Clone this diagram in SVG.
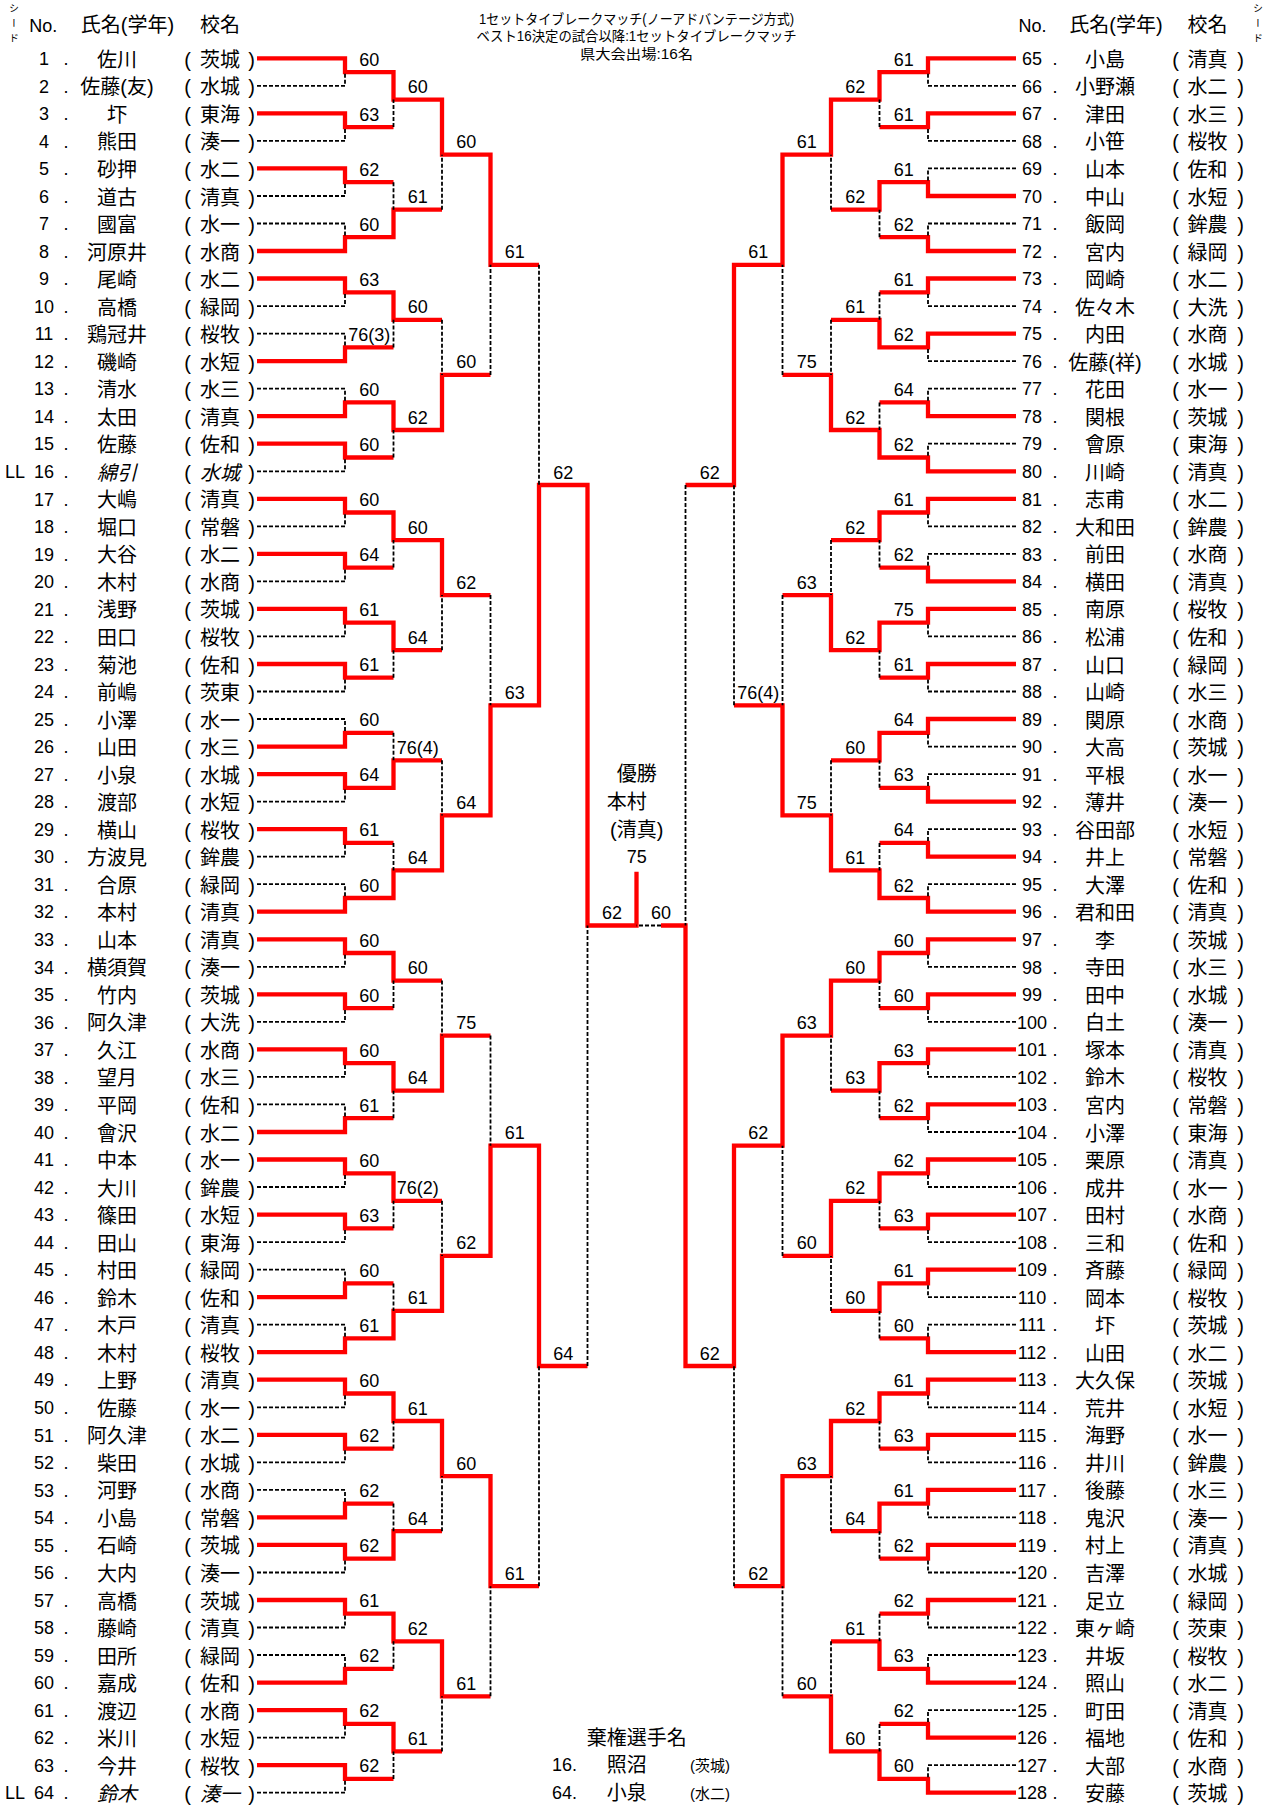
<svg xmlns="http://www.w3.org/2000/svg" width="1277" height="1805" viewBox="0 0 1277 1805">
<style>
text{font-family:"Liberation Sans","Noto Sans CJK JP",sans-serif;fill:#000}
.no{font-family:"Liberation Sans Narrow","Liberation Sans","Noto Sans CJK JP",sans-serif;font-size:18px;text-anchor:middle}
.nm{font-size:20px;text-anchor:middle}
.s{font-size:18px;text-anchor:middle}
.ti{font-size:14px;text-anchor:middle}
.sm{font-size:15px;text-anchor:middle}
.it{font-style:italic}
.vt{font-size:10px;writing-mode:vertical-rl;letter-spacing:5px}
.r{fill:none;stroke:#f00;stroke-width:4.3;stroke-linejoin:miter}
.d{fill:none;stroke:#000;stroke-width:1.8;stroke-dasharray:4 2}
</style>
<defs>
<g id="L"><text class="no" x="66" y="-1.8">.</text><text class="nm" x="187.5">(</text><text class="nm" x="251.5">)</text></g>
<g id="R"><text class="no" x="1055" y="-1.8">.</text><text class="nm" x="1175.5">(</text><text class="nm" x="1240.5">)</text></g>
</defs>
<rect width="1277" height="1805" fill="#fff"/>
<g id="header">
<text class="vt" x="13" y="3">シード</text>
<text class="vt" x="1257" y="3">シード</text>
<text class="no" x="43.3" y="31.5">No.</text>
<text class="nm" x="127.5" y="31.5">氏名(学年)</text>
<text class="nm" x="220" y="31.5">校名</text>
<text class="no" x="1032.5" y="31.5">No.</text>
<text class="nm" x="1116" y="31.5">氏名(学年)</text>
<text class="nm" x="1207.5" y="31.5">校名</text>
<text class="ti" x="636.5" y="24" textLength="315" lengthAdjust="spacingAndGlyphs">1セットタイブレークマッチ(ノーアドバンテージ方式)</text>
<text class="ti" x="636.5" y="41" textLength="320" lengthAdjust="spacingAndGlyphs">ベスト16決定の試合以降:1セットタイブレークマッチ</text>
<text class="ti" x="636.5" y="58.5" textLength="113" lengthAdjust="spacingAndGlyphs">県大会出場:16名</text>
</g>
<g id="connectors">
<g class="r">
<path d="M257 58.3H345V72.1H393.5V99.6H442V154.7H490.5V264.8H539"/>
<path d="M257 113.4H345V127.1H393.5"/>
<path d="M257 168.4H345V182.2H393.5"/>
<path d="M257 251H345V237.2H393.5V209.7H442"/>
<path d="M257 278.5H345V292.3H393.5V319.8H442"/>
<path d="M257 361.1H345V347.4H393.5"/>
<path d="M257 416.2H345V402.4H393.5V430H442V374.9H490.5"/>
<path d="M257 443.7H345V457.5H393.5"/>
<path d="M257 498.8H345V512.5H393.5V540.1H442V595.1H490.5"/>
<path d="M257 553.8H345V567.6H393.5"/>
<path d="M257 608.9H345V622.7H393.5V650.2H442"/>
<path d="M257 664H345V677.7H393.5"/>
<path d="M257 746.6H345V732.8H393.5"/>
<path d="M257 774.1H345V787.8H393.5V760.3H442"/>
<path d="M257 829.1H345V842.9H393.5"/>
<path d="M257 911.7H345V898H393.5V870.4H442V815.4H490.5V705.3H539V485H587.5V925.5H636.5V871.7"/>
<path d="M257 939.3H345V953H393.5V980.6H442"/>
<path d="M257 994.3H345V1008.1H393.5"/>
<path d="M257 1049.4H345V1063.1H393.5V1090.7H442V1035.6H490.5"/>
<path d="M257 1132H345V1118.2H393.5"/>
<path d="M257 1159.5H345V1173.3H393.5V1200.8H442"/>
<path d="M257 1214.6H345V1228.3H393.5"/>
<path d="M257 1297.2H345V1283.4H393.5"/>
<path d="M257 1352.2H345V1338.4H393.5V1310.9H442V1255.9H490.5V1145.7H539V1366H587.5"/>
<path d="M257 1379.7H345V1393.5H393.5V1421H442V1476.1H490.5V1586.2H539"/>
<path d="M257 1434.8H345V1448.6H393.5"/>
<path d="M257 1517.4H345V1503.6H393.5"/>
<path d="M257 1544.9H345V1558.7H393.5V1531.2H442"/>
<path d="M257 1600H345V1613.7H393.5V1641.3H442V1696.3H490.5"/>
<path d="M257 1682.6H345V1668.8H393.5"/>
<path d="M257 1710.1H345V1723.9H393.5V1751.4H442"/>
<path d="M257 1765.2H345V1778.9H393.5"/>
<path d="M1016 58.3H928V72.1H879.5V99.6H831V154.7H782.5V264.8H734V485H685.5"/>
<path d="M1016 113.4H928V127.1H879.5"/>
<path d="M1016 196H928V182.2H879.5V209.7H831"/>
<path d="M1016 251H928V237.2H879.5"/>
<path d="M1016 278.5H928V292.3H879.5"/>
<path d="M1016 333.6H928V347.4H879.5V319.8H831"/>
<path d="M1016 416.2H928V402.4H879.5"/>
<path d="M1016 471.3H928V457.5H879.5V430H831V374.9H782.5"/>
<path d="M1016 498.8H928V512.5H879.5V540.1H831"/>
<path d="M1016 581.4H928V567.6H879.5"/>
<path d="M1016 608.9H928V622.7H879.5V650.2H831V595.1H782.5"/>
<path d="M1016 664H928V677.7H879.5"/>
<path d="M1016 719H928V732.8H879.5V760.3H831"/>
<path d="M1016 801.6H928V787.8H879.5"/>
<path d="M1016 856.7H928V842.9H879.5"/>
<path d="M1016 911.7H928V898H879.5V870.4H831V815.4H782.5V705.3H734"/>
<path d="M1016 939.3H928V953H879.5V980.6H831V1035.6H782.5V1145.7H734V1366H685.5V925.5H661"/>
<path d="M1016 994.3H928V1008.1H879.5"/>
<path d="M1016 1049.4H928V1063.1H879.5V1090.7H831"/>
<path d="M1016 1104.4H928V1118.2H879.5"/>
<path d="M1016 1159.5H928V1173.3H879.5V1200.8H831V1255.9H782.5"/>
<path d="M1016 1214.6H928V1228.3H879.5"/>
<path d="M1016 1269.6H928V1283.4H879.5V1310.9H831"/>
<path d="M1016 1352.2H928V1338.4H879.5"/>
<path d="M1016 1379.7H928V1393.5H879.5V1421H831V1476.1H782.5V1586.2H734"/>
<path d="M1016 1434.8H928V1448.6H879.5"/>
<path d="M1016 1489.9H928V1503.6H879.5V1531.2H831"/>
<path d="M1016 1544.9H928V1558.7H879.5"/>
<path d="M1016 1600H928V1613.7H879.5"/>
<path d="M1016 1682.6H928V1668.8H879.5V1641.3H831"/>
<path d="M1016 1737.6H928V1723.9H879.5"/>
<path d="M1016 1792.7H928V1778.9H879.5V1751.4H831V1696.3H782.5"/>
</g>
<path class="d" d="M539 264.8V485M393.5 127.1V99.6M393.5 182.2V209.7M442 209.7V154.7M442 319.8V374.9M393.5 347.4V319.8M490.5 374.9V264.8M393.5 457.5V430M490.5 595.1V705.3M393.5 567.6V540.1M442 650.2V595.1M393.5 677.7V650.2M393.5 732.8V760.3M442 760.3V815.4M393.5 842.9V870.4M442 980.6V1035.6M393.5 1008.1V980.6M490.5 1035.6V1145.7M393.5 1118.2V1090.7M442 1200.8V1255.9M393.5 1228.3V1200.8M393.5 1283.4V1310.9M587.5 1366V925.5M539 1586.2V1366M393.5 1448.6V1421M393.5 1503.6V1531.2M442 1531.2V1476.1M490.5 1696.3V1586.2M393.5 1668.8V1641.3M442 1751.4V1696.3M393.5 1778.9V1751.4"/>
<path class="d" d="M257 85.8H345V72.1M257 140.9H345V127.1M257 196H345V182.2M257 223.5H345V237.2M257 306.1H345V292.3M257 333.6H345V347.4M257 388.7H345V402.4M257 471.3H345V457.5M257 526.3H345V512.5M257 581.4H345V567.6M257 636.4H345V622.7M257 691.5H345V677.7M257 719H345V732.8M257 801.6H345V787.8M257 856.7H345V842.9M257 884.2H345V898M257 966.8H345V953M257 1021.9H345V1008.1M257 1076.9H345V1063.1M257 1104.4H345V1118.2M257 1187H345V1173.3M257 1242.1H345V1228.3M257 1269.6H345V1283.4M257 1324.7H345V1338.4M257 1407.3H345V1393.5M257 1462.3H345V1448.6M257 1489.9H345V1503.6M257 1572.5H345V1558.7M257 1627.5H345V1613.7M257 1655H345V1668.8M257 1737.6H345V1723.9M257 1792.7H345V1778.9"/>
<path class="d" d="M685.5 485V925.5M879.5 127.1V99.6M831 209.7V154.7M879.5 237.2V209.7M879.5 292.3V319.8M831 319.8V374.9M879.5 402.4V430M782.5 374.9V264.8M831 540.1V595.1M879.5 567.6V540.1M782.5 595.1V705.3M879.5 677.7V650.2M831 760.3V815.4M879.5 787.8V760.3M879.5 842.9V870.4M734 705.3V485M661 925.5H636.5M879.5 1008.1V980.6M831 1090.7V1035.6M879.5 1118.2V1090.7M782.5 1255.9V1145.7M879.5 1228.3V1200.8M831 1310.9V1255.9M879.5 1338.4V1310.9M734 1586.2V1366M879.5 1448.6V1421M831 1531.2V1476.1M879.5 1558.7V1531.2M782.5 1696.3V1586.2M879.5 1613.7V1641.3M831 1641.3V1696.3M879.5 1723.9V1751.4"/>
<path class="d" d="M1016 85.8H928V72.1M1016 140.9H928V127.1M1016 168.4H928V182.2M1016 223.5H928V237.2M1016 306.1H928V292.3M1016 361.1H928V347.4M1016 388.7H928V402.4M1016 443.7H928V457.5M1016 526.3H928V512.5M1016 553.8H928V567.6M1016 636.4H928V622.7M1016 691.5H928V677.7M1016 746.6H928V732.8M1016 774.1H928V787.8M1016 829.1H928V842.9M1016 884.2H928V898M1016 966.8H928V953M1016 1021.9H928V1008.1M1016 1076.9H928V1063.1M1016 1132H928V1118.2M1016 1187H928V1173.3M1016 1242.1H928V1228.3M1016 1297.2H928V1283.4M1016 1324.7H928V1338.4M1016 1407.3H928V1393.5M1016 1462.3H928V1448.6M1016 1517.4H928V1503.6M1016 1572.5H928V1558.7M1016 1627.5H928V1613.7M1016 1655H928V1668.8M1016 1710.1H928V1723.9M1016 1765.2H928V1778.9"/>
</g>
<g id="scores">
<text class="s"><tspan x="369.3" y="65.6">60</tspan><tspan x="369.3" y="120.6">63</tspan><tspan x="369.3" y="175.7">62</tspan><tspan x="369.3" y="230.7">60</tspan><tspan x="369.3" y="285.8">63</tspan><tspan x="369.3" y="340.9">76(3)</tspan><tspan x="369.3" y="395.9">60</tspan><tspan x="369.3" y="451">60</tspan><tspan x="369.3" y="506">60</tspan><tspan x="369.3" y="561.1">64</tspan><tspan x="369.3" y="616.2">61</tspan><tspan x="369.3" y="671.2">61</tspan><tspan x="369.3" y="726.3">60</tspan><tspan x="369.3" y="781.3">64</tspan><tspan x="369.3" y="836.4">61</tspan><tspan x="369.3" y="891.5">60</tspan><tspan x="369.3" y="946.5">60</tspan><tspan x="369.3" y="1001.6">60</tspan><tspan x="369.3" y="1056.6">60</tspan><tspan x="369.3" y="1111.7">61</tspan><tspan x="369.3" y="1166.8">60</tspan><tspan x="369.3" y="1221.8">63</tspan><tspan x="369.3" y="1276.9">60</tspan><tspan x="369.3" y="1331.9">61</tspan><tspan x="369.3" y="1387">60</tspan><tspan x="369.3" y="1442.1">62</tspan><tspan x="369.3" y="1497.1">62</tspan><tspan x="369.3" y="1552.2">62</tspan><tspan x="369.3" y="1607.2">61</tspan><tspan x="369.3" y="1662.3">62</tspan><tspan x="369.3" y="1717.4">62</tspan><tspan x="369.3" y="1772.4">62</tspan></text>
<text class="s"><tspan x="417.8" y="93.1">60</tspan><tspan x="417.8" y="203.2">61</tspan><tspan x="417.8" y="313.3">60</tspan><tspan x="417.8" y="423.5">62</tspan><tspan x="417.8" y="533.6">60</tspan><tspan x="417.8" y="643.7">64</tspan><tspan x="417.8" y="753.8">76(4)</tspan><tspan x="417.8" y="863.9">64</tspan><tspan x="417.8" y="974.1">60</tspan><tspan x="417.8" y="1084.2">64</tspan><tspan x="417.8" y="1194.3">76(2)</tspan><tspan x="417.8" y="1304.4">61</tspan><tspan x="417.8" y="1414.5">61</tspan><tspan x="417.8" y="1524.7">64</tspan><tspan x="417.8" y="1634.8">62</tspan><tspan x="417.8" y="1744.9">61</tspan></text>
<text class="s"><tspan x="466.3" y="148.2">60</tspan><tspan x="466.3" y="368.4">60</tspan><tspan x="466.3" y="588.6">62</tspan><tspan x="466.3" y="808.9">64</tspan><tspan x="466.3" y="1029.1">75</tspan><tspan x="466.3" y="1249.4">62</tspan><tspan x="466.3" y="1469.6">60</tspan><tspan x="466.3" y="1689.8">61</tspan></text>
<text class="s"><tspan x="514.8" y="258.3">61</tspan><tspan x="514.8" y="698.8">63</tspan><tspan x="514.8" y="1139.2">61</tspan><tspan x="514.8" y="1579.7">61</tspan></text>
<text class="s"><tspan x="563.3" y="478.5">62</tspan><tspan x="563.3" y="1359.5">64</tspan></text>
<text class="s"><tspan x="612" y="919">62</tspan><tspan x="661" y="919">60</tspan></text>
<text class="s"><tspan x="903.8" y="65.6">61</tspan><tspan x="903.8" y="120.6">61</tspan><tspan x="903.8" y="175.7">61</tspan><tspan x="903.8" y="230.7">62</tspan><tspan x="903.8" y="285.8">61</tspan><tspan x="903.8" y="340.9">62</tspan><tspan x="903.8" y="395.9">64</tspan><tspan x="903.8" y="451">62</tspan><tspan x="903.8" y="506">61</tspan><tspan x="903.8" y="561.1">62</tspan><tspan x="903.8" y="616.2">75</tspan><tspan x="903.8" y="671.2">61</tspan><tspan x="903.8" y="726.3">64</tspan><tspan x="903.8" y="781.3">63</tspan><tspan x="903.8" y="836.4">64</tspan><tspan x="903.8" y="891.5">62</tspan><tspan x="903.8" y="946.5">60</tspan><tspan x="903.8" y="1001.6">60</tspan><tspan x="903.8" y="1056.6">63</tspan><tspan x="903.8" y="1111.7">62</tspan><tspan x="903.8" y="1166.8">62</tspan><tspan x="903.8" y="1221.8">63</tspan><tspan x="903.8" y="1276.9">61</tspan><tspan x="903.8" y="1331.9">60</tspan><tspan x="903.8" y="1387">61</tspan><tspan x="903.8" y="1442.1">63</tspan><tspan x="903.8" y="1497.1">61</tspan><tspan x="903.8" y="1552.2">62</tspan><tspan x="903.8" y="1607.2">62</tspan><tspan x="903.8" y="1662.3">63</tspan><tspan x="903.8" y="1717.4">62</tspan><tspan x="903.8" y="1772.4">60</tspan></text>
<text class="s"><tspan x="855.3" y="93.1">62</tspan><tspan x="855.3" y="203.2">62</tspan><tspan x="855.3" y="313.3">61</tspan><tspan x="855.3" y="423.5">62</tspan><tspan x="855.3" y="533.6">62</tspan><tspan x="855.3" y="643.7">62</tspan><tspan x="855.3" y="753.8">60</tspan><tspan x="855.3" y="863.9">61</tspan><tspan x="855.3" y="974.1">60</tspan><tspan x="855.3" y="1084.2">63</tspan><tspan x="855.3" y="1194.3">62</tspan><tspan x="855.3" y="1304.4">60</tspan><tspan x="855.3" y="1414.5">62</tspan><tspan x="855.3" y="1524.7">64</tspan><tspan x="855.3" y="1634.8">61</tspan><tspan x="855.3" y="1744.9">60</tspan></text>
<text class="s"><tspan x="806.8" y="148.2">61</tspan><tspan x="806.8" y="368.4">75</tspan><tspan x="806.8" y="588.6">63</tspan><tspan x="806.8" y="808.9">75</tspan><tspan x="806.8" y="1029.1">63</tspan><tspan x="806.8" y="1249.4">60</tspan><tspan x="806.8" y="1469.6">63</tspan><tspan x="806.8" y="1689.8">60</tspan></text>
<text class="s"><tspan x="758.3" y="258.3">61</tspan><tspan x="758.3" y="698.8">76(4)</tspan><tspan x="758.3" y="1139.2">62</tspan><tspan x="758.3" y="1579.7">62</tspan></text>
<text class="s"><tspan x="709.8" y="478.5">62</tspan><tspan x="709.8" y="1359.5">62</tspan></text>
</g>
<g id="champion">
<text class="nm" x="636.7" y="781">優勝</text>
<text class="nm" x="626.7" y="809">本村</text>
<text class="nm" x="636.7" y="836.5">(清真)</text>
<text class="s" x="636.7" y="863">75</text>
</g>
<g id="withdrawn">
<text class="nm" x="636.7" y="1745">棄権選手名</text>
<text class="s" x="552" y="1771" style="text-anchor:start">16.</text>
<text class="nm" x="626.7" y="1772">照沼</text>
<text class="sm" x="710" y="1771">(茨城)</text>
<text class="s" x="552" y="1799" style="text-anchor:start">64.</text>
<text class="nm" x="626.7" y="1800">小泉</text>
<text class="sm" x="710" y="1799">(水二)</text>
</g>
<g id="players">
<g id="p1" transform="translate(0 66.8)"><text class="no" x="44" y="-1.8">1</text><text class="nm" x="117">佐川</text><text class="nm" x="220">茨城</text><use href="#L"/></g>
<g id="p2" transform="translate(0 94.3)"><text class="no" x="44" y="-1.8">2</text><text class="nm" x="117">佐藤(友)</text><text class="nm" x="220">水城</text><use href="#L"/></g>
<g id="p3" transform="translate(0 121.9)"><text class="no" x="44" y="-1.8">3</text><text class="nm" x="117">圷</text><text class="nm" x="220">東海</text><use href="#L"/></g>
<g id="p4" transform="translate(0 149.4)"><text class="no" x="44" y="-1.8">4</text><text class="nm" x="117">熊田</text><text class="nm" x="220">湊一</text><use href="#L"/></g>
<g id="p5" transform="translate(0 176.9)"><text class="no" x="44" y="-1.8">5</text><text class="nm" x="117">砂押</text><text class="nm" x="220">水二</text><use href="#L"/></g>
<g id="p6" transform="translate(0 204.5)"><text class="no" x="44" y="-1.8">6</text><text class="nm" x="117">道古</text><text class="nm" x="220">清真</text><use href="#L"/></g>
<g id="p7" transform="translate(0 232)"><text class="no" x="44" y="-1.8">7</text><text class="nm" x="117">國富</text><text class="nm" x="220">水一</text><use href="#L"/></g>
<g id="p8" transform="translate(0 259.5)"><text class="no" x="44" y="-1.8">8</text><text class="nm" x="117">河原井</text><text class="nm" x="220">水商</text><use href="#L"/></g>
<g id="p9" transform="translate(0 287)"><text class="no" x="44" y="-1.8">9</text><text class="nm" x="117">尾崎</text><text class="nm" x="220">水二</text><use href="#L"/></g>
<g id="p10" transform="translate(0 314.6)"><text class="no" x="44" y="-1.8">10</text><text class="nm" x="117">高橋</text><text class="nm" x="220">緑岡</text><use href="#L"/></g>
<g id="p11" transform="translate(0 342.1)"><text class="no" x="44" y="-1.8">11</text><text class="nm" x="117">鶏冠井</text><text class="nm" x="220">桜牧</text><use href="#L"/></g>
<g id="p12" transform="translate(0 369.6)"><text class="no" x="44" y="-1.8">12</text><text class="nm" x="117">磯崎</text><text class="nm" x="220">水短</text><use href="#L"/></g>
<g id="p13" transform="translate(0 397.2)"><text class="no" x="44" y="-1.8">13</text><text class="nm" x="117">清水</text><text class="nm" x="220">水三</text><use href="#L"/></g>
<g id="p14" transform="translate(0 424.7)"><text class="no" x="44" y="-1.8">14</text><text class="nm" x="117">太田</text><text class="nm" x="220">清真</text><use href="#L"/></g>
<g id="p15" transform="translate(0 452.2)"><text class="no" x="44" y="-1.8">15</text><text class="nm" x="117">佐藤</text><text class="nm" x="220">佐和</text><use href="#L"/></g>
<g id="p16" transform="translate(0 479.8)"><text class="no" x="15" y="-1.8">LL</text><text class="no" x="44" y="-1.8">16</text><text class="nm it" x="117">綿引</text><text class="nm it" x="220">水城</text><use href="#L"/></g>
<g id="p17" transform="translate(0 507.3)"><text class="no" x="44" y="-1.8">17</text><text class="nm" x="117">大嶋</text><text class="nm" x="220">清真</text><use href="#L"/></g>
<g id="p18" transform="translate(0 534.8)"><text class="no" x="44" y="-1.8">18</text><text class="nm" x="117">堀口</text><text class="nm" x="220">常磐</text><use href="#L"/></g>
<g id="p19" transform="translate(0 562.3)"><text class="no" x="44" y="-1.8">19</text><text class="nm" x="117">大谷</text><text class="nm" x="220">水二</text><use href="#L"/></g>
<g id="p20" transform="translate(0 589.9)"><text class="no" x="44" y="-1.8">20</text><text class="nm" x="117">木村</text><text class="nm" x="220">水商</text><use href="#L"/></g>
<g id="p21" transform="translate(0 617.4)"><text class="no" x="44" y="-1.8">21</text><text class="nm" x="117">浅野</text><text class="nm" x="220">茨城</text><use href="#L"/></g>
<g id="p22" transform="translate(0 644.9)"><text class="no" x="44" y="-1.8">22</text><text class="nm" x="117">田口</text><text class="nm" x="220">桜牧</text><use href="#L"/></g>
<g id="p23" transform="translate(0 672.5)"><text class="no" x="44" y="-1.8">23</text><text class="nm" x="117">菊池</text><text class="nm" x="220">佐和</text><use href="#L"/></g>
<g id="p24" transform="translate(0 700)"><text class="no" x="44" y="-1.8">24</text><text class="nm" x="117">前嶋</text><text class="nm" x="220">茨東</text><use href="#L"/></g>
<g id="p25" transform="translate(0 727.5)"><text class="no" x="44" y="-1.8">25</text><text class="nm" x="117">小澤</text><text class="nm" x="220">水一</text><use href="#L"/></g>
<g id="p26" transform="translate(0 755.1)"><text class="no" x="44" y="-1.8">26</text><text class="nm" x="117">山田</text><text class="nm" x="220">水三</text><use href="#L"/></g>
<g id="p27" transform="translate(0 782.6)"><text class="no" x="44" y="-1.8">27</text><text class="nm" x="117">小泉</text><text class="nm" x="220">水城</text><use href="#L"/></g>
<g id="p28" transform="translate(0 810.1)"><text class="no" x="44" y="-1.8">28</text><text class="nm" x="117">渡部</text><text class="nm" x="220">水短</text><use href="#L"/></g>
<g id="p29" transform="translate(0 837.6)"><text class="no" x="44" y="-1.8">29</text><text class="nm" x="117">横山</text><text class="nm" x="220">桜牧</text><use href="#L"/></g>
<g id="p30" transform="translate(0 865.2)"><text class="no" x="44" y="-1.8">30</text><text class="nm" x="117">方波見</text><text class="nm" x="220">鉾農</text><use href="#L"/></g>
<g id="p31" transform="translate(0 892.7)"><text class="no" x="44" y="-1.8">31</text><text class="nm" x="117">合原</text><text class="nm" x="220">緑岡</text><use href="#L"/></g>
<g id="p32" transform="translate(0 920.2)"><text class="no" x="44" y="-1.8">32</text><text class="nm" x="117">本村</text><text class="nm" x="220">清真</text><use href="#L"/></g>
<g id="p33" transform="translate(0 947.8)"><text class="no" x="44" y="-1.8">33</text><text class="nm" x="117">山本</text><text class="nm" x="220">清真</text><use href="#L"/></g>
<g id="p34" transform="translate(0 975.3)"><text class="no" x="44" y="-1.8">34</text><text class="nm" x="117">横須賀</text><text class="nm" x="220">湊一</text><use href="#L"/></g>
<g id="p35" transform="translate(0 1002.8)"><text class="no" x="44" y="-1.8">35</text><text class="nm" x="117">竹内</text><text class="nm" x="220">茨城</text><use href="#L"/></g>
<g id="p36" transform="translate(0 1030.4)"><text class="no" x="44" y="-1.8">36</text><text class="nm" x="117">阿久津</text><text class="nm" x="220">大洗</text><use href="#L"/></g>
<g id="p37" transform="translate(0 1057.9)"><text class="no" x="44" y="-1.8">37</text><text class="nm" x="117">久江</text><text class="nm" x="220">水商</text><use href="#L"/></g>
<g id="p38" transform="translate(0 1085.4)"><text class="no" x="44" y="-1.8">38</text><text class="nm" x="117">望月</text><text class="nm" x="220">水三</text><use href="#L"/></g>
<g id="p39" transform="translate(0 1112.9)"><text class="no" x="44" y="-1.8">39</text><text class="nm" x="117">平岡</text><text class="nm" x="220">佐和</text><use href="#L"/></g>
<g id="p40" transform="translate(0 1140.5)"><text class="no" x="44" y="-1.8">40</text><text class="nm" x="117">會沢</text><text class="nm" x="220">水二</text><use href="#L"/></g>
<g id="p41" transform="translate(0 1168)"><text class="no" x="44" y="-1.8">41</text><text class="nm" x="117">中本</text><text class="nm" x="220">水一</text><use href="#L"/></g>
<g id="p42" transform="translate(0 1195.5)"><text class="no" x="44" y="-1.8">42</text><text class="nm" x="117">大川</text><text class="nm" x="220">鉾農</text><use href="#L"/></g>
<g id="p43" transform="translate(0 1223.1)"><text class="no" x="44" y="-1.8">43</text><text class="nm" x="117">篠田</text><text class="nm" x="220">水短</text><use href="#L"/></g>
<g id="p44" transform="translate(0 1250.6)"><text class="no" x="44" y="-1.8">44</text><text class="nm" x="117">田山</text><text class="nm" x="220">東海</text><use href="#L"/></g>
<g id="p45" transform="translate(0 1278.1)"><text class="no" x="44" y="-1.8">45</text><text class="nm" x="117">村田</text><text class="nm" x="220">緑岡</text><use href="#L"/></g>
<g id="p46" transform="translate(0 1305.7)"><text class="no" x="44" y="-1.8">46</text><text class="nm" x="117">鈴木</text><text class="nm" x="220">佐和</text><use href="#L"/></g>
<g id="p47" transform="translate(0 1333.2)"><text class="no" x="44" y="-1.8">47</text><text class="nm" x="117">木戸</text><text class="nm" x="220">清真</text><use href="#L"/></g>
<g id="p48" transform="translate(0 1360.7)"><text class="no" x="44" y="-1.8">48</text><text class="nm" x="117">木村</text><text class="nm" x="220">桜牧</text><use href="#L"/></g>
<g id="p49" transform="translate(0 1388.2)"><text class="no" x="44" y="-1.8">49</text><text class="nm" x="117">上野</text><text class="nm" x="220">清真</text><use href="#L"/></g>
<g id="p50" transform="translate(0 1415.8)"><text class="no" x="44" y="-1.8">50</text><text class="nm" x="117">佐藤</text><text class="nm" x="220">水一</text><use href="#L"/></g>
<g id="p51" transform="translate(0 1443.3)"><text class="no" x="44" y="-1.8">51</text><text class="nm" x="117">阿久津</text><text class="nm" x="220">水二</text><use href="#L"/></g>
<g id="p52" transform="translate(0 1470.8)"><text class="no" x="44" y="-1.8">52</text><text class="nm" x="117">柴田</text><text class="nm" x="220">水城</text><use href="#L"/></g>
<g id="p53" transform="translate(0 1498.4)"><text class="no" x="44" y="-1.8">53</text><text class="nm" x="117">河野</text><text class="nm" x="220">水商</text><use href="#L"/></g>
<g id="p54" transform="translate(0 1525.9)"><text class="no" x="44" y="-1.8">54</text><text class="nm" x="117">小島</text><text class="nm" x="220">常磐</text><use href="#L"/></g>
<g id="p55" transform="translate(0 1553.4)"><text class="no" x="44" y="-1.8">55</text><text class="nm" x="117">石崎</text><text class="nm" x="220">茨城</text><use href="#L"/></g>
<g id="p56" transform="translate(0 1581)"><text class="no" x="44" y="-1.8">56</text><text class="nm" x="117">大内</text><text class="nm" x="220">湊一</text><use href="#L"/></g>
<g id="p57" transform="translate(0 1608.5)"><text class="no" x="44" y="-1.8">57</text><text class="nm" x="117">高橋</text><text class="nm" x="220">茨城</text><use href="#L"/></g>
<g id="p58" transform="translate(0 1636)"><text class="no" x="44" y="-1.8">58</text><text class="nm" x="117">藤崎</text><text class="nm" x="220">清真</text><use href="#L"/></g>
<g id="p59" transform="translate(0 1663.5)"><text class="no" x="44" y="-1.8">59</text><text class="nm" x="117">田所</text><text class="nm" x="220">緑岡</text><use href="#L"/></g>
<g id="p60" transform="translate(0 1691.1)"><text class="no" x="44" y="-1.8">60</text><text class="nm" x="117">嘉成</text><text class="nm" x="220">佐和</text><use href="#L"/></g>
<g id="p61" transform="translate(0 1718.6)"><text class="no" x="44" y="-1.8">61</text><text class="nm" x="117">渡辺</text><text class="nm" x="220">水商</text><use href="#L"/></g>
<g id="p62" transform="translate(0 1746.1)"><text class="no" x="44" y="-1.8">62</text><text class="nm" x="117">米川</text><text class="nm" x="220">水短</text><use href="#L"/></g>
<g id="p63" transform="translate(0 1773.7)"><text class="no" x="44" y="-1.8">63</text><text class="nm" x="117">今井</text><text class="nm" x="220">桜牧</text><use href="#L"/></g>
<g id="p64" transform="translate(0 1801.2)"><text class="no" x="15" y="-1.8">LL</text><text class="no" x="44" y="-1.8">64</text><text class="nm it" x="117">鈴木</text><text class="nm it" x="220">湊一</text><use href="#L"/></g>
<g id="p65" transform="translate(0 66.8)"><text class="no" x="1032" y="-1.8">65</text><text class="nm" x="1105">小島</text><text class="nm" x="1207.5">清真</text><use href="#R"/></g>
<g id="p66" transform="translate(0 94.3)"><text class="no" x="1032" y="-1.8">66</text><text class="nm" x="1105">小野瀬</text><text class="nm" x="1207.5">水二</text><use href="#R"/></g>
<g id="p67" transform="translate(0 121.9)"><text class="no" x="1032" y="-1.8">67</text><text class="nm" x="1105">津田</text><text class="nm" x="1207.5">水三</text><use href="#R"/></g>
<g id="p68" transform="translate(0 149.4)"><text class="no" x="1032" y="-1.8">68</text><text class="nm" x="1105">小笹</text><text class="nm" x="1207.5">桜牧</text><use href="#R"/></g>
<g id="p69" transform="translate(0 176.9)"><text class="no" x="1032" y="-1.8">69</text><text class="nm" x="1105">山本</text><text class="nm" x="1207.5">佐和</text><use href="#R"/></g>
<g id="p70" transform="translate(0 204.5)"><text class="no" x="1032" y="-1.8">70</text><text class="nm" x="1105">中山</text><text class="nm" x="1207.5">水短</text><use href="#R"/></g>
<g id="p71" transform="translate(0 232)"><text class="no" x="1032" y="-1.8">71</text><text class="nm" x="1105">飯岡</text><text class="nm" x="1207.5">鉾農</text><use href="#R"/></g>
<g id="p72" transform="translate(0 259.5)"><text class="no" x="1032" y="-1.8">72</text><text class="nm" x="1105">宮内</text><text class="nm" x="1207.5">緑岡</text><use href="#R"/></g>
<g id="p73" transform="translate(0 287)"><text class="no" x="1032" y="-1.8">73</text><text class="nm" x="1105">岡崎</text><text class="nm" x="1207.5">水二</text><use href="#R"/></g>
<g id="p74" transform="translate(0 314.6)"><text class="no" x="1032" y="-1.8">74</text><text class="nm" x="1105">佐々木</text><text class="nm" x="1207.5">大洗</text><use href="#R"/></g>
<g id="p75" transform="translate(0 342.1)"><text class="no" x="1032" y="-1.8">75</text><text class="nm" x="1105">内田</text><text class="nm" x="1207.5">水商</text><use href="#R"/></g>
<g id="p76" transform="translate(0 369.6)"><text class="no" x="1032" y="-1.8">76</text><text class="nm" x="1105">佐藤(祥)</text><text class="nm" x="1207.5">水城</text><use href="#R"/></g>
<g id="p77" transform="translate(0 397.2)"><text class="no" x="1032" y="-1.8">77</text><text class="nm" x="1105">花田</text><text class="nm" x="1207.5">水一</text><use href="#R"/></g>
<g id="p78" transform="translate(0 424.7)"><text class="no" x="1032" y="-1.8">78</text><text class="nm" x="1105">関根</text><text class="nm" x="1207.5">茨城</text><use href="#R"/></g>
<g id="p79" transform="translate(0 452.2)"><text class="no" x="1032" y="-1.8">79</text><text class="nm" x="1105">會原</text><text class="nm" x="1207.5">東海</text><use href="#R"/></g>
<g id="p80" transform="translate(0 479.8)"><text class="no" x="1032" y="-1.8">80</text><text class="nm" x="1105">川崎</text><text class="nm" x="1207.5">清真</text><use href="#R"/></g>
<g id="p81" transform="translate(0 507.3)"><text class="no" x="1032" y="-1.8">81</text><text class="nm" x="1105">志甫</text><text class="nm" x="1207.5">水二</text><use href="#R"/></g>
<g id="p82" transform="translate(0 534.8)"><text class="no" x="1032" y="-1.8">82</text><text class="nm" x="1105">大和田</text><text class="nm" x="1207.5">鉾農</text><use href="#R"/></g>
<g id="p83" transform="translate(0 562.3)"><text class="no" x="1032" y="-1.8">83</text><text class="nm" x="1105">前田</text><text class="nm" x="1207.5">水商</text><use href="#R"/></g>
<g id="p84" transform="translate(0 589.9)"><text class="no" x="1032" y="-1.8">84</text><text class="nm" x="1105">横田</text><text class="nm" x="1207.5">清真</text><use href="#R"/></g>
<g id="p85" transform="translate(0 617.4)"><text class="no" x="1032" y="-1.8">85</text><text class="nm" x="1105">南原</text><text class="nm" x="1207.5">桜牧</text><use href="#R"/></g>
<g id="p86" transform="translate(0 644.9)"><text class="no" x="1032" y="-1.8">86</text><text class="nm" x="1105">松浦</text><text class="nm" x="1207.5">佐和</text><use href="#R"/></g>
<g id="p87" transform="translate(0 672.5)"><text class="no" x="1032" y="-1.8">87</text><text class="nm" x="1105">山口</text><text class="nm" x="1207.5">緑岡</text><use href="#R"/></g>
<g id="p88" transform="translate(0 700)"><text class="no" x="1032" y="-1.8">88</text><text class="nm" x="1105">山崎</text><text class="nm" x="1207.5">水三</text><use href="#R"/></g>
<g id="p89" transform="translate(0 727.5)"><text class="no" x="1032" y="-1.8">89</text><text class="nm" x="1105">関原</text><text class="nm" x="1207.5">水商</text><use href="#R"/></g>
<g id="p90" transform="translate(0 755.1)"><text class="no" x="1032" y="-1.8">90</text><text class="nm" x="1105">大高</text><text class="nm" x="1207.5">茨城</text><use href="#R"/></g>
<g id="p91" transform="translate(0 782.6)"><text class="no" x="1032" y="-1.8">91</text><text class="nm" x="1105">平根</text><text class="nm" x="1207.5">水一</text><use href="#R"/></g>
<g id="p92" transform="translate(0 810.1)"><text class="no" x="1032" y="-1.8">92</text><text class="nm" x="1105">薄井</text><text class="nm" x="1207.5">湊一</text><use href="#R"/></g>
<g id="p93" transform="translate(0 837.6)"><text class="no" x="1032" y="-1.8">93</text><text class="nm" x="1105">谷田部</text><text class="nm" x="1207.5">水短</text><use href="#R"/></g>
<g id="p94" transform="translate(0 865.2)"><text class="no" x="1032" y="-1.8">94</text><text class="nm" x="1105">井上</text><text class="nm" x="1207.5">常磐</text><use href="#R"/></g>
<g id="p95" transform="translate(0 892.7)"><text class="no" x="1032" y="-1.8">95</text><text class="nm" x="1105">大澤</text><text class="nm" x="1207.5">佐和</text><use href="#R"/></g>
<g id="p96" transform="translate(0 920.2)"><text class="no" x="1032" y="-1.8">96</text><text class="nm" x="1105">君和田</text><text class="nm" x="1207.5">清真</text><use href="#R"/></g>
<g id="p97" transform="translate(0 947.8)"><text class="no" x="1032" y="-1.8">97</text><text class="nm" x="1105">李</text><text class="nm" x="1207.5">茨城</text><use href="#R"/></g>
<g id="p98" transform="translate(0 975.3)"><text class="no" x="1032" y="-1.8">98</text><text class="nm" x="1105">寺田</text><text class="nm" x="1207.5">水三</text><use href="#R"/></g>
<g id="p99" transform="translate(0 1002.8)"><text class="no" x="1032" y="-1.8">99</text><text class="nm" x="1105">田中</text><text class="nm" x="1207.5">水城</text><use href="#R"/></g>
<g id="p100" transform="translate(0 1030.4)"><text class="no" x="1032" y="-1.8">100</text><text class="nm" x="1105">白土</text><text class="nm" x="1207.5">湊一</text><use href="#R"/></g>
<g id="p101" transform="translate(0 1057.9)"><text class="no" x="1032" y="-1.8">101</text><text class="nm" x="1105">塚本</text><text class="nm" x="1207.5">清真</text><use href="#R"/></g>
<g id="p102" transform="translate(0 1085.4)"><text class="no" x="1032" y="-1.8">102</text><text class="nm" x="1105">鈴木</text><text class="nm" x="1207.5">桜牧</text><use href="#R"/></g>
<g id="p103" transform="translate(0 1112.9)"><text class="no" x="1032" y="-1.8">103</text><text class="nm" x="1105">宮内</text><text class="nm" x="1207.5">常磐</text><use href="#R"/></g>
<g id="p104" transform="translate(0 1140.5)"><text class="no" x="1032" y="-1.8">104</text><text class="nm" x="1105">小澤</text><text class="nm" x="1207.5">東海</text><use href="#R"/></g>
<g id="p105" transform="translate(0 1168)"><text class="no" x="1032" y="-1.8">105</text><text class="nm" x="1105">栗原</text><text class="nm" x="1207.5">清真</text><use href="#R"/></g>
<g id="p106" transform="translate(0 1195.5)"><text class="no" x="1032" y="-1.8">106</text><text class="nm" x="1105">成井</text><text class="nm" x="1207.5">水一</text><use href="#R"/></g>
<g id="p107" transform="translate(0 1223.1)"><text class="no" x="1032" y="-1.8">107</text><text class="nm" x="1105">田村</text><text class="nm" x="1207.5">水商</text><use href="#R"/></g>
<g id="p108" transform="translate(0 1250.6)"><text class="no" x="1032" y="-1.8">108</text><text class="nm" x="1105">三和</text><text class="nm" x="1207.5">佐和</text><use href="#R"/></g>
<g id="p109" transform="translate(0 1278.1)"><text class="no" x="1032" y="-1.8">109</text><text class="nm" x="1105">斉藤</text><text class="nm" x="1207.5">緑岡</text><use href="#R"/></g>
<g id="p110" transform="translate(0 1305.7)"><text class="no" x="1032" y="-1.8">110</text><text class="nm" x="1105">岡本</text><text class="nm" x="1207.5">桜牧</text><use href="#R"/></g>
<g id="p111" transform="translate(0 1333.2)"><text class="no" x="1032" y="-1.8">111</text><text class="nm" x="1105">圷</text><text class="nm" x="1207.5">茨城</text><use href="#R"/></g>
<g id="p112" transform="translate(0 1360.7)"><text class="no" x="1032" y="-1.8">112</text><text class="nm" x="1105">山田</text><text class="nm" x="1207.5">水二</text><use href="#R"/></g>
<g id="p113" transform="translate(0 1388.2)"><text class="no" x="1032" y="-1.8">113</text><text class="nm" x="1105">大久保</text><text class="nm" x="1207.5">茨城</text><use href="#R"/></g>
<g id="p114" transform="translate(0 1415.8)"><text class="no" x="1032" y="-1.8">114</text><text class="nm" x="1105">荒井</text><text class="nm" x="1207.5">水短</text><use href="#R"/></g>
<g id="p115" transform="translate(0 1443.3)"><text class="no" x="1032" y="-1.8">115</text><text class="nm" x="1105">海野</text><text class="nm" x="1207.5">水一</text><use href="#R"/></g>
<g id="p116" transform="translate(0 1470.8)"><text class="no" x="1032" y="-1.8">116</text><text class="nm" x="1105">井川</text><text class="nm" x="1207.5">鉾農</text><use href="#R"/></g>
<g id="p117" transform="translate(0 1498.4)"><text class="no" x="1032" y="-1.8">117</text><text class="nm" x="1105">後藤</text><text class="nm" x="1207.5">水三</text><use href="#R"/></g>
<g id="p118" transform="translate(0 1525.9)"><text class="no" x="1032" y="-1.8">118</text><text class="nm" x="1105">鬼沢</text><text class="nm" x="1207.5">湊一</text><use href="#R"/></g>
<g id="p119" transform="translate(0 1553.4)"><text class="no" x="1032" y="-1.8">119</text><text class="nm" x="1105">村上</text><text class="nm" x="1207.5">清真</text><use href="#R"/></g>
<g id="p120" transform="translate(0 1581)"><text class="no" x="1032" y="-1.8">120</text><text class="nm" x="1105">吉澤</text><text class="nm" x="1207.5">水城</text><use href="#R"/></g>
<g id="p121" transform="translate(0 1608.5)"><text class="no" x="1032" y="-1.8">121</text><text class="nm" x="1105">足立</text><text class="nm" x="1207.5">緑岡</text><use href="#R"/></g>
<g id="p122" transform="translate(0 1636)"><text class="no" x="1032" y="-1.8">122</text><text class="nm" x="1105">東ヶ崎</text><text class="nm" x="1207.5">茨東</text><use href="#R"/></g>
<g id="p123" transform="translate(0 1663.5)"><text class="no" x="1032" y="-1.8">123</text><text class="nm" x="1105">井坂</text><text class="nm" x="1207.5">桜牧</text><use href="#R"/></g>
<g id="p124" transform="translate(0 1691.1)"><text class="no" x="1032" y="-1.8">124</text><text class="nm" x="1105">照山</text><text class="nm" x="1207.5">水二</text><use href="#R"/></g>
<g id="p125" transform="translate(0 1718.6)"><text class="no" x="1032" y="-1.8">125</text><text class="nm" x="1105">町田</text><text class="nm" x="1207.5">清真</text><use href="#R"/></g>
<g id="p126" transform="translate(0 1746.1)"><text class="no" x="1032" y="-1.8">126</text><text class="nm" x="1105">福地</text><text class="nm" x="1207.5">佐和</text><use href="#R"/></g>
<g id="p127" transform="translate(0 1773.7)"><text class="no" x="1032" y="-1.8">127</text><text class="nm" x="1105">大部</text><text class="nm" x="1207.5">水商</text><use href="#R"/></g>
<g id="p128" transform="translate(0 1801.2)"><text class="no" x="1032" y="-1.8">128</text><text class="nm" x="1105">安藤</text><text class="nm" x="1207.5">茨城</text><use href="#R"/></g>
</g>
</svg>
